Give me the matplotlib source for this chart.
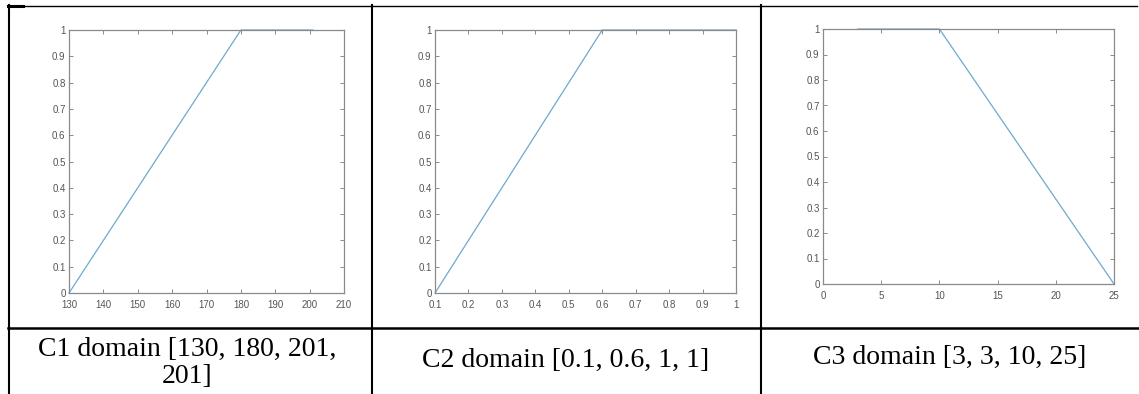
import matplotlib.pyplot as plt
import numpy as np
from matplotlib.ticker import FuncFormatter

# membership functions (trapezoids)
c1_x = [130, 180, 201]
c1_y = [0, 1, 1]
c2_x = [0.1, 0.6, 1]
c2_y = [0, 1, 1]
c3_x = [3, 10, 25]
c3_y = [1, 1, 0]

captions = ['C1 domain [130, 180, 201,\n201]',
            'C2 domain [0.1, 0.6, 1, 1]',
            'C3 domain [3, 3, 10, 25]']

W, H = 1139, 394
fig = plt.figure(figsize=(W / 100, H / 100), dpi=100)

# table background in pixel coordinates
bg = fig.add_axes([0, 0, 1, 1], zorder=0)
bg.set_xlim(0, W)
bg.set_ylim(H, 0)
bg.axis('off')
bg.plot([8, 1137], [5.5, 5.5], color='black', lw=1.0)
bg.plot([8, W], [328, 328], color='black', lw=1.8)
for xv in [9, 371.5, 761]:
    bg.plot([xv, xv], [5, H], color='black', lw=1.5)
bg.plot([8, 23], [5.5, 5.5], color='black', lw=2.2)

bg.text(187, 363, captions[0], ha='center', va='center', fontsize=20,
        family='Liberation Serif', linespacing=1.08)
bg.text(566, 360, captions[1], ha='center', va='center', fontsize=20,
        family='Liberation Serif')
bg.text(950, 357, captions[2], ha='center', va='center', fontsize=20,
        family='Liberation Serif')


def box(l, r, t, b):
    return [l / W, 1 - b / H, (r - l) / W, (b - t) / H]


panels = [
    (box(69, 344, 30, 293), c1_x, c1_y, (130, 210), np.arange(130, 211, 10)),
    (box(435, 736, 30, 293), c2_x, c2_y, (0.1, 1), np.arange(0.1, 1.01, 0.1)),
    (box(823, 1114, 29, 284), c3_x, c3_y, (0, 25), np.arange(0, 26, 5)),
]

fmt = FuncFormatter(lambda v, p: '%g' % round(v, 2))
grey = '#8a8a8a'

for rect, xs, ys, xl, xt in panels:
    ax = fig.add_axes(rect, zorder=1)
    ax.plot(xs, ys, color='#6fa8cf', lw=0.9, clip_on=False)
    ax.set_xlim(*xl)
    ax.set_ylim(0, 1)
    ax.set_xticks(xt)
    ax.set_yticks(np.arange(0, 1.01, 0.1))
    ax.xaxis.set_major_formatter(fmt)
    ax.yaxis.set_major_formatter(fmt)
    ax.tick_params(direction='in', length=3, width=0.7, colors=grey,
                   labelcolor='#555555', labelsize=7,
                   top=True, right=True)
    ax.tick_params(axis='x', pad=4.8)
    ax.tick_params(axis='y', pad=2.5)
    for lab in ax.get_xticklabels() + ax.get_yticklabels():
        lab.set_family('Liberation Sans')
    for s in ax.spines.values():
        s.set_color(grey)
        s.set_linewidth(0.9)

fig.savefig('out.png', dpi=100)
